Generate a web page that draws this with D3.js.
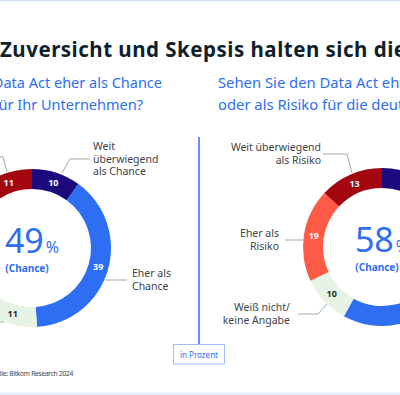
<!DOCTYPE html>
<html lang="de">
<head>
<meta charset="UTF-8">
<title>Data Act – Chance oder Risiko</title>
<script src="https://d3js.org/d3.v7.min.js"></script>
<style>
  body { margin: 0; background: #fff; }
  svg { display: block; font-family: "Noto Sans", sans-serif; }
  .lbl { font-size: 10.5px; fill: #3d4349; }
  .lead { fill: none; stroke: #8a9096; stroke-width: 0.8px; }
</style>
</head>
<body>
<svg width="400" height="395"></svg>
<script>
// answer categories, in ring order (clockwise from 12 o'clock)
const categories = ["Weit überwiegend als Chance", "Eher als Chance", "Weiß nicht/keine Angabe", "Eher als Risiko", "Weit überwiegend als Risiko"];
const colors = ["#1c0a7d", "#2d6ef2", "#e7f3e5", "#ff5a46", "#a4060f"];
const textColors = ["#fff", "#fff", "#1d2a33", "#fff", "#fff"];

// values in percent
const companyValues = [10, 39, 11, 29, 11];   // für Ihr Unternehmen
const economyValues = [12, 46, 10, 19, 13];   // für die deutsche Wirtschaft

const chanceShare = [49, 58];

const titleText = "Zuversicht und Skepsis halten sich die Waage";
const questions = [
  ["Sehen Sie den Data Act eher als Chance", "oder als Risiko für Ihr Unternehmen?"],
  ["Sehen Sie den Data Act eher als Chance", "oder als Risiko für die deutsche Wirtschaft?"]
];
const sourceText = "Quelle: Bitkom Research 2024";
const unitText = "in Prozent";

const svg = d3.select("svg");
const blue = "#2d6ef2";

// frame lines top & bottom
svg.append("rect").attr("x", 0).attr("y", 0).attr("width", 400).attr("height", 1.5).attr("fill", "#d6e4fb");
svg.append("rect").attr("x", 0).attr("y", 392.5).attr("width", 400).attr("height", 2.5).attr("fill", "#e3ecfb");

svg.append("text")
  .attr("x", 0).attr("y", 57)
  .attr("font-size", 20.5).attr("font-weight", 700)
  .attr("letter-spacing", 0.5)
  .attr("fill", "#0f1f2b")
  .text(titleText);

// question texts: left column is cut at the page edge, so anchor at line end
questions[0].forEach((line, j) => {
  svg.append("text")
    .attr("x", [162, 143][j]).attr("y", 88 + j * 22)
    .attr("text-anchor", "end")
    .attr("font-size", 14.5).attr("fill", blue)
    .text(line);
});
questions[1].forEach((line, j) => {
  svg.append("text")
    .attr("x", 218).attr("y", 88 + j * 22)
    .attr("font-size", 14.8).attr("fill", blue)
    .text(line);
});

// divider + unit box
svg.append("line").attr("x1", 199).attr("x2", 199).attr("y1", 137).attr("y2", 344)
  .attr("stroke", blue).attr("stroke-width", 1.5);
svg.append("rect").attr("x", 173.5).attr("y", 344.5).attr("width", 51).attr("height", 19.5)
  .attr("fill", "#fff").attr("stroke", "#9dbcf6").attr("stroke-width", 1);
svg.append("text").attr("x", 199).attr("y", 357.5).attr("text-anchor", "middle")
  .attr("font-size", 8).attr("fill", blue).text(unitText);

svg.append("text").attr("x", 73).attr("y", 376).attr("text-anchor", "end")
  .attr("font-size", 6.6).attr("letter-spacing", -0.25).attr("fill", "#3a3f44").text(sourceText);

// donuts
const R = 79, r = 59;
const pie = d3.pie().sort(null).value(d => d);
const arc = d3.arc().innerRadius(r).outerRadius(R);
const labelArc = d3.arc().innerRadius(69).outerRadius(69);

function donut(cx, cy, values, share) {
  const g = svg.append("g").attr("transform", `translate(${cx},${cy})`);
  const arcs = pie(values);
  g.selectAll("path.seg").data(arcs).join("path")
    .attr("class", "seg")
    .attr("d", arc)
    .attr("fill", (d, i) => colors[i]);
  g.selectAll("text.val").data(arcs).join("text")
    .attr("class", "val")
    .attr("transform", d => `translate(${labelArc.centroid(d)})`)
    .attr("text-anchor", "middle").attr("dy", "0.35em")
    .attr("font-size", 9).attr("font-weight", 700)
    .attr("fill", (d, i) => textColors[i])
    .text(d => d.data);
  const big = g.append("text").attr("x", 0).attr("y", 5).attr("text-anchor", "middle").attr("fill", blue);
  big.append("tspan").attr("font-size", 34).text(share);
  big.append("tspan").attr("font-size", 16).attr("dx", 2).text("%");
  g.append("text").attr("x", -5).attr("y", 24).attr("text-anchor", "middle")
    .attr("font-size", 10).attr("font-weight", 700).attr("fill", blue).text("(Chance)");
  return g;
}

donut(32, 248, companyValues, chanceShare[0]);
donut(382, 247, economyValues, chanceShare[1]);

// leader lines
const leaders = [
  [[62, 173], [70, 159], [90, 159]],
  [[7, 172], [3, 157], [-5, 157]],
  [[105, 280], [127, 280]],
  [[4, 322], [-5, 322]],
  [[352, 173], [347, 154], [323, 154]],
  [[305, 240], [285, 240]],
  [[327, 304], [318, 314], [298, 314]]
];
leaders.forEach(p => svg.append("path").attr("class", "lead").attr("d", d3.line()(p)));

// category labels
function label(x, y, lines, anchor) {
  const t = svg.append("text").attr("class", "lbl").attr("text-anchor", anchor);
  lines.forEach((l, i) => t.append("tspan").attr("x", x).attr("y", y + i * 12.5).text(l));
}
label(93, 150, ["Weit", "überwiegend", "als Chance"], "start");
label(132, 277, ["Eher als", "Chance"], "start");
label(321, 151, ["Weit überwiegend", "als Risiko"], "end");
label(279, 237, ["Eher als", "Risiko"], "end");
label(290, 311, ["Weiß nicht/", "keine Angabe"], "end");
</script>
</body>
</html>
